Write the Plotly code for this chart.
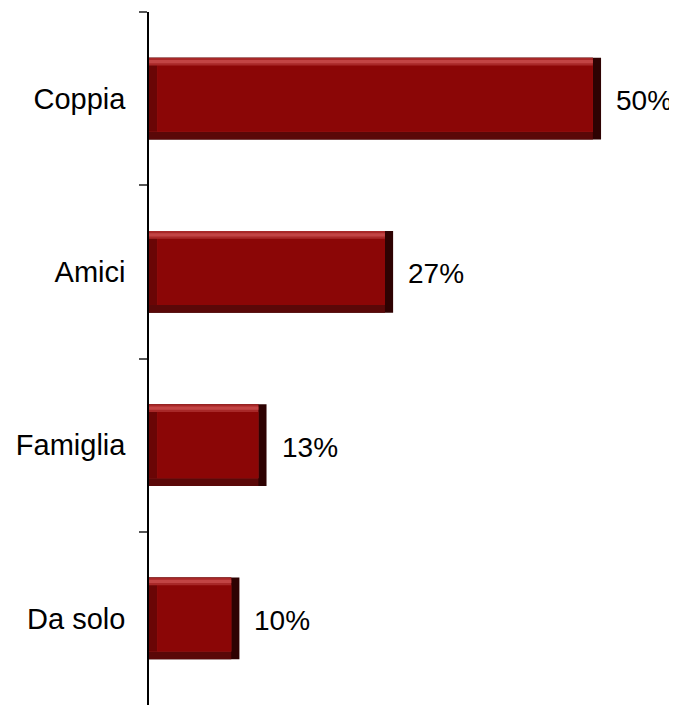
import plotly.graph_objects as go

categories = ["Coppia", "Amici", "Famiglia", "Da solo"]
values = [50, 27, 13, 10]
value_labels = ["50%", "27%", "13%", "10%"]

HALF = 0.236      # half bar thickness (category units)
BY = 0.045        # bevel thickness (category units)
BX = 0.9          # bevel thickness (value units)

fig = go.Figure()

def layer(x, base, offset, width, color):
    fig.add_trace(go.Bar(
        y=categories, x=x, base=base, orientation="h",
        offset=offset, width=width,
        marker=dict(color=color, line=dict(width=0)),
        hoverinfo="skip", showlegend=False,
    ))

# full bar (right edge shadow)
layer(values, [0]*4, -HALF, 2*HALF, "#2e0202")
# bottom shadow
layer([v - BX for v in values], [0]*4, -HALF, 2*HALF, "#5a0808")
# top highlight
layer([v - BX for v in values], [0]*4, -HALF, 2*HALF - BY, "#a82828")
layer([v - BX for v in values], [0]*4, -HALF + BY*0.3, BY*0.4, "#c24444")
# left edge
layer([BX]*4, [0]*4, -HALF + BY, 2*HALF - 2*BY, "#6a0505")
# main face
layer([v - 2*BX for v in values], [BX]*4, -HALF + BY, 2*HALF - 2*BY, "#8b0606")

for c, v, t in zip(categories, values, value_labels):
    fig.add_annotation(x=v, y=c, text=t, showarrow=False, xanchor="left",
                       xshift=13, yshift=-2, font=dict(size=28, color="#000000",
                                            family="Liberation Sans, Arial, sans-serif"))

fig.update_layout(
    width=669, height=697,
    margin=dict(l=141, r=0, t=4, b=0, autoexpand=False),
    plot_bgcolor="white", paper_bgcolor="white",
    barmode="overlay",
    font=dict(family="Liberation Sans, Arial, sans-serif", size=29, color="#000000"),
    xaxis=dict(visible=False, range=[0, 58.4], automargin=False),
    yaxis=dict(
        type="category", autorange="reversed", automargin=False,
        showline=True, linecolor="#000000", linewidth=1.5,
        ticks="outside", ticklen=8, tickcolor="#555555", tickwidth=1.5,
        tickson="boundaries", showgrid=False, zeroline=False,
        ticklabelstandoff=16,
    ),
)

fig.write_html("out.html")
